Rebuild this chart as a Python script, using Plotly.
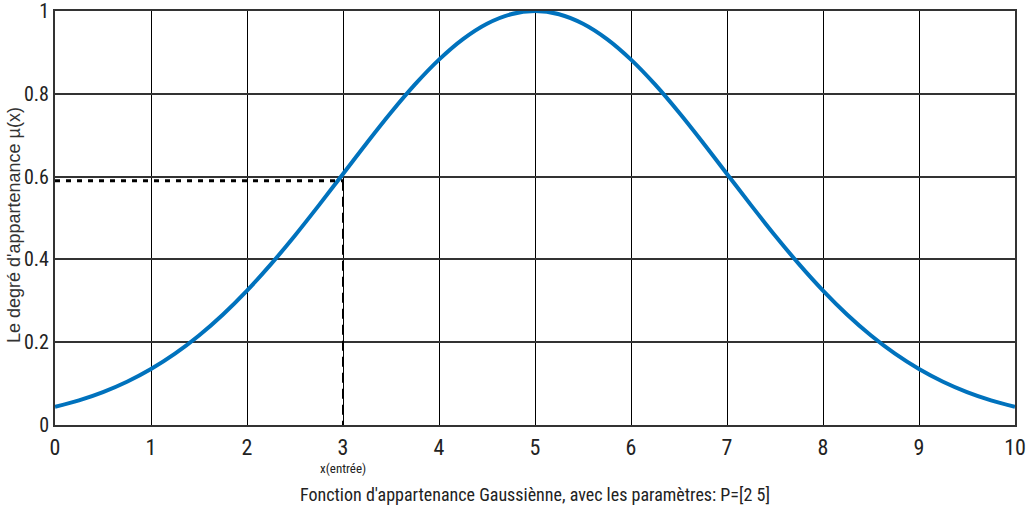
import plotly.graph_objects as go

# Membership curve values (x step 0.25)
x_vals = [0, 0.25, 0.5, 0.75, 1, 1.25, 1.5, 1.75, 2, 2.25, 2.5, 2.75, 3, 3.25, 3.5, 3.75,
          4, 4.25, 4.5, 4.75, 5, 5.25, 5.5, 5.75, 6, 6.25, 6.5, 6.75, 7, 7.25, 7.5, 7.75,
          8, 8.25, 8.5, 8.75, 9, 9.25, 9.5, 9.75, 10]
mu_vals = [0.0439, 0.0596, 0.0796, 0.1046, 0.1353, 0.1724, 0.2163, 0.2671, 0.3247, 0.3886,
           0.4578, 0.5311, 0.6065, 0.6819, 0.7548, 0.8226, 0.8825, 0.9321, 0.9692, 0.9922,
           1.0, 0.9922, 0.9692, 0.9321, 0.8825, 0.8226, 0.7548, 0.6819, 0.6065, 0.5311,
           0.4578, 0.3886, 0.3247, 0.2671, 0.2163, 0.1724, 0.1353, 0.1046, 0.0796, 0.0596,
           0.0439]

x_input = 3
mu_input = 0.59

x_ticks = [0, 1, 2, 3, 4, 5, 6, 7, 8, 9, 10]
y_ticks = [0, 0.2, 0.4, 0.6, 0.8, 1]
y_tick_text = ["0", "0.2", "0.4", "0.6", "0.8", "1"]

narrow = "Roboto Condensed, Liberation Sans Narrow, Arial Narrow, Liberation Sans"
tick_color = "#222"

fig = go.Figure()
fig.add_trace(go.Scatter(x=x_vals, y=mu_vals, mode="lines",
                         line=dict(color="#0072BD", width=4, shape="spline"), showlegend=False))
fig.add_trace(go.Scatter(x=[0, x_input], y=[mu_input, mu_input], mode="lines",
                         line=dict(color="black", width=3, dash="5px,6px"), showlegend=False))
fig.add_trace(go.Scatter(x=[x_input, x_input], y=[mu_input, 0], mode="lines",
                         line=dict(color="black", width=2, dash="10px,6px"), showlegend=False))

fig.update_layout(
    width=1027, height=513,
    margin=dict(l=55, r=12, t=11, b=88),
    paper_bgcolor="white", plot_bgcolor="white",
    font=dict(family=narrow, color=tick_color),
    xaxis=dict(range=[0, 10], tickvals=x_ticks, showgrid=True, gridcolor="black", gridwidth=1,
               showline=True, linecolor="#333", linewidth=2, mirror=True, zeroline=False,
               ticks="", ticklabelstandoff=2, automargin=False, ticklabeloverflow="allow",
               tickfont=dict(size=22, family=narrow, color=tick_color)),
    yaxis=dict(range=[0, 1], tickvals=y_ticks, ticktext=y_tick_text, showgrid=True,
               gridcolor="#333", gridwidth=1.5,
               showline=True, linecolor="#333", linewidth=2, mirror=True, zeroline=False,
               ticks="", ticklabelstandoff=0, automargin=False, ticklabeloverflow="allow",
               tickfont=dict(size=20, family=narrow, color=tick_color)),
    annotations=[
        dict(x=0, y=0.483, xref="paper", yref="paper", xshift=-41, textangle=-90,
             text="Le degré d'appartenance µ(x)", showarrow=False,
             font=dict(size=18, family="Liberation Sans, Arial", color="#333"),
             xanchor="center", yanchor="middle"),
        dict(x=x_input, y=-0.106, xref="x", yref="paper", text="x(entrée)", showarrow=False,
             font=dict(size=13, family=narrow, color=tick_color), yanchor="middle"),
        dict(x=0.5, y=-0.169, xref="paper", yref="paper",
             text="Fonction d'appartenance Gaussiènne, avec les paramètres: P=[2 5]",
             showarrow=False, font=dict(size=18, family=narrow, color=tick_color), yanchor="middle"),
    ],
)

fig.write_html("out.html", config={"displayModeBar": False},
               post_script="document.body.style.margin='0';")
